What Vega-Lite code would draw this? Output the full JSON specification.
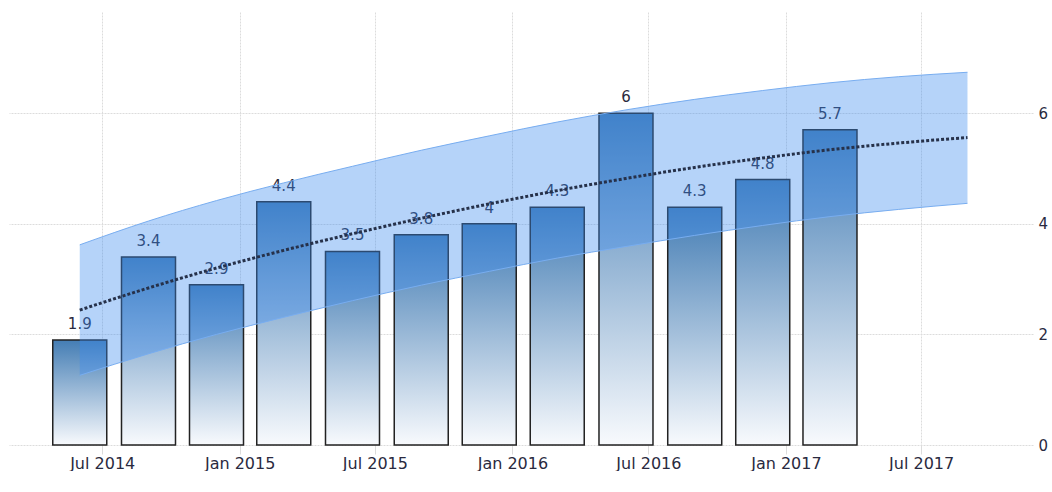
{
  "$schema": "https://vega.github.io/schema/vega-lite/v6.json",
  "width": 1024,
  "height": 433,
  "padding": {"left": 9, "top": 12, "right": 0, "bottom": 0},
  "background": "white",
  "config": {"view": {"stroke": null}},
  "datasets": {
    "bars": [
      {"date": "2014-06-01", "value": 1.9},
      {"date": "2014-09-01", "value": 3.4},
      {"date": "2014-12-01", "value": 2.9},
      {"date": "2015-03-01", "value": 4.4},
      {"date": "2015-06-01", "value": 3.5},
      {"date": "2015-09-01", "value": 3.8},
      {"date": "2015-12-01", "value": 4},
      {"date": "2016-03-01", "value": 4.3},
      {"date": "2016-06-01", "value": 6},
      {"date": "2016-09-01", "value": 4.3},
      {"date": "2016-12-01", "value": 4.8},
      {"date": "2017-03-01", "value": 5.7}
    ],
    "band": [
      {"date": "2014-06-01", "trend": 2.44, "upper": 3.62, "lower": 1.26},
      {"date": "2014-09-01", "trend": 2.84, "upper": 4.05, "lower": 1.65},
      {"date": "2014-12-01", "trend": 3.2, "upper": 4.42, "lower": 2.0},
      {"date": "2015-03-01", "trend": 3.52, "upper": 4.74, "lower": 2.31},
      {"date": "2015-06-01", "trend": 3.82, "upper": 5.04, "lower": 2.61},
      {"date": "2015-09-01", "trend": 4.1, "upper": 5.33, "lower": 2.89},
      {"date": "2015-12-01", "trend": 4.36, "upper": 5.59, "lower": 3.14},
      {"date": "2016-03-01", "trend": 4.6, "upper": 5.84, "lower": 3.38},
      {"date": "2016-06-01", "trend": 4.82, "upper": 6.06, "lower": 3.59},
      {"date": "2016-09-01", "trend": 5.02, "upper": 6.25, "lower": 3.79},
      {"date": "2016-12-01", "trend": 5.19, "upper": 6.41, "lower": 3.97},
      {"date": "2017-03-01", "trend": 5.34, "upper": 6.55, "lower": 4.13},
      {"date": "2017-06-01", "trend": 5.46, "upper": 6.66, "lower": 4.26},
      {"date": "2017-09-01", "trend": 5.56, "upper": 6.74, "lower": 4.37}
    ]
  },
  "layer": [
    {
      "data": {"name": "bars"},
      "mark": {
        "type": "bar",
        "width": 54,
        "stroke": "#222222",
        "strokeWidth": 1.5,
        "fill": {
          "gradient": "linear", "x1": 0, "y1": 0, "x2": 0, "y2": 1,
          "stops": [
            {"offset": 0, "color": "#447db4"},
            {"offset": 1, "color": "#f8fafd"}
          ]
        }
      },
      "encoding": {
        "x": {
          "field": "date", "type": "temporal",
          "scale": {
            "type": "utc",
            "domain": [
              {"year": 2014, "month": 3, "date": 5, "utc": true},
              {"year": 2017, "month": 11, "date": 21, "utc": true}
            ]
          },
          "axis": {
            "title": null,
            "values": [
              {"year": 2014, "month": 7, "date": 1, "utc": true},
              {"year": 2015, "month": 1, "date": 1, "utc": true},
              {"year": 2015, "month": 7, "date": 1, "utc": true},
              {"year": 2016, "month": 1, "date": 1, "utc": true},
              {"year": 2016, "month": 7, "date": 1, "utc": true},
              {"year": 2017, "month": 1, "date": 1, "utc": true},
              {"year": 2017, "month": 7, "date": 1, "utc": true}
            ],
            "labelExpr": "utcFormat(datum.value, '%b %Y')",
            "grid": true,
            "gridColor": "#dcdcdc",
            "gridDash": [2, 1],
            "domain": false,
            "tickColor": "#dcdcdc",
            "tickSize": 9,
            "labelPadding": 1,
            "labelFont": "DejaVu Sans",
            "labelFontSize": 16,
            "labelColor": "#2a2a40"
          }
        },
        "y": {
          "field": "value", "type": "quantitative",
          "scale": {"domain": [0, 7.83], "nice": false, "zero": true},
          "axis": {
            "title": null,
            "orient": "right",
            "values": [0, 2, 4, 6],
            "grid": true,
            "gridColor": "#dcdcdc",
            "gridDash": [2, 1],
            "domain": false,
            "ticks": false,
            "labelPadding": 5,
            "labelFont": "DejaVu Sans",
            "labelFontSize": 15,
            "labelColor": "#2a2a40"
          }
        }
      }
    },
    {
      "data": {"name": "bars"},
      "mark": {"type": "text", "baseline": "alphabetic", "dy": -11, "font": "DejaVu Sans", "fontSize": 15, "color": "#2a2a40"},
      "encoding": {
        "x": {"field": "date", "type": "temporal"},
        "y": {"field": "value", "type": "quantitative"},
        "text": {"field": "value", "type": "nominal"}
      }
    },
    {
      "data": {"name": "band"},
      "mark": {"type": "area", "interpolate": "monotone", "color": "#3d8bef", "opacity": 0.38},
      "encoding": {
        "x": {"field": "date", "type": "temporal"},
        "y": {"field": "upper", "type": "quantitative"},
        "y2": {"field": "lower"}
      }
    },
    {
      "data": {"name": "band"},
      "mark": {"type": "line", "interpolate": "monotone", "color": "#78adf0", "strokeWidth": 1},
      "encoding": {
        "x": {"field": "date", "type": "temporal"},
        "y": {"field": "upper", "type": "quantitative"}
      }
    },
    {
      "data": {"name": "band"},
      "mark": {"type": "line", "interpolate": "monotone", "color": "#78adf0", "strokeWidth": 1},
      "encoding": {
        "x": {"field": "date", "type": "temporal"},
        "y": {"field": "lower", "type": "quantitative"}
      }
    },
    {
      "data": {"name": "band"},
      "mark": {"type": "line", "interpolate": "monotone", "color": "#26314a", "strokeWidth": 3, "strokeDash": [3, 2]},
      "encoding": {
        "x": {"field": "date", "type": "temporal"},
        "y": {"field": "trend", "type": "quantitative"}
      }
    }
  ]
}
